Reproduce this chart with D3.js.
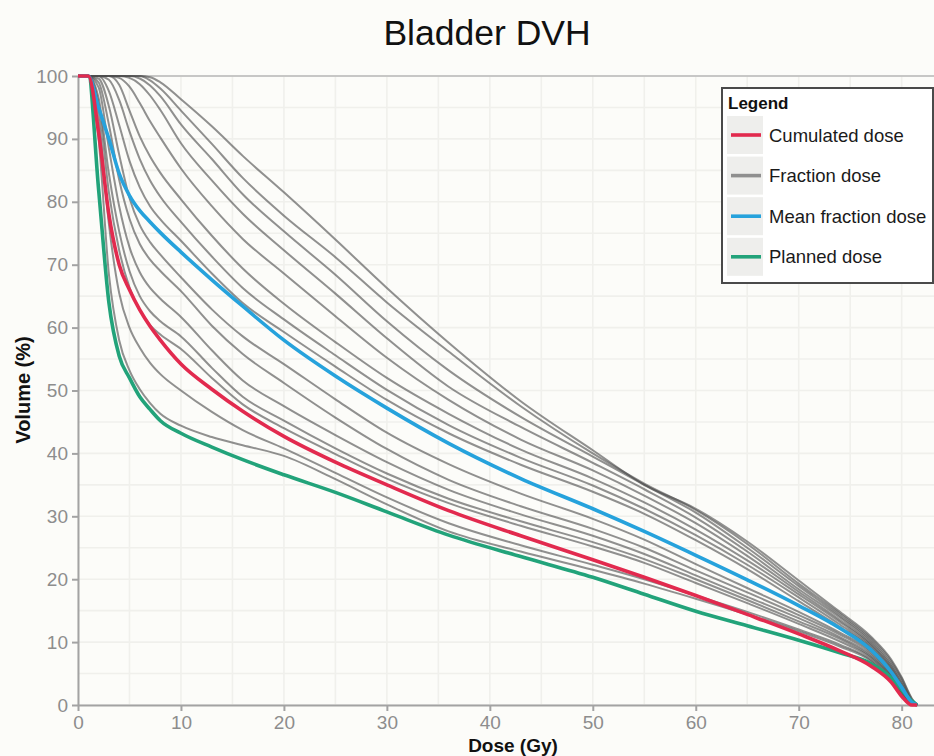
<!DOCTYPE html>
<html>
<head>
<meta charset="utf-8">
<script src="https://cdn.jsdelivr.net/npm/d3@7/dist/d3.min.js"></script>
<style>
  html, body { margin: 0; padding: 0; background: #fcfcf9; }
  svg { display: block; font-family: "Liberation Sans", Arial, Helvetica, sans-serif; }
</style>
</head>
<body>
<svg id="chart" width="934" height="756"></svg>
<script>
// Dose sampling points (Gy) shared by every curve
const doses = [0, 1, 2, 3, 4, 5, 6, 7, 8, 10, 13, 16, 20, 25, 30, 36, 43, 50, 55, 60, 65, 70, 74, 77, 79, 80, 81, 81.5];

// Individual fraction DVHs (volume %)
const fractionDose = [
  [100,100,100,100,100,100,100,99.8,99,96.3,92,87.3,81.5,74,66.3,57.6,48.3,40.5,35,31.2,26,19.8,14.8,10.9,7.2,4.4,1,0],
  [100,100,100,100,100,100,100,99.3,98,94.5,89.2,83.8,77.8,71.2,64,56.2,47.5,40,35.2,31,25.6,19.3,14.5,10.6,6.9,4.2,0.9,0],
  [100,100,100,100,100,100,99.6,98.5,96.8,92.3,86.8,81.2,75.3,68.4,61,53.2,45.8,39.5,35,30.6,25,18.9,14.2,10.3,6.5,3.8,0.7,0],
  [100,100,100,100,100,99.7,98.7,96.9,94.6,89.3,83.4,78.1,72.3,65.4,58.3,50.6,44.2,38.5,34.3,29.8,24.4,18.4,13.9,10,6.2,3.5,0.6,0],
  [100,100,100,100,99.7,98.3,95.7,92.8,90.2,85.3,79.3,74.1,68.6,61.8,55.2,48.5,42.2,37.3,33.3,28.9,23.7,18,13.5,9.7,5.9,3.2,0.5,0],
  [100,100,100,100,98.6,94.5,90.4,87.2,84.6,80.4,74.6,69.4,63.8,57.7,52,46.3,40.6,36,32.2,27.9,23,17.6,13.2,9.5,5.7,3,0.4,0],
  [100,100,100,99.4,96.2,91.2,86.8,83.4,80.8,76.8,71.3,66.3,61.3,55.6,50.1,44.5,39.3,34.9,31.2,27,22.3,17.1,12.8,9.2,5.4,2.8,0.3,0],
  [100,100,100,97.6,92.2,86.5,82.3,79.3,77.2,73.8,68.6,63.9,59.3,53.8,48.5,43.2,38.2,33.9,30.4,26.2,21.6,16.5,12.4,9,5.2,2.6,0.3,0],
  [100,100,99.6,95.2,87.5,80.6,76.3,73.6,71.6,68,62.9,58.6,54.2,48.6,43.3,38.3,33.6,29.6,26.3,22.4,18.6,14.8,11.5,8.6,5,2.4,0.2,0],
  [100,100,99,92.3,83.5,77.3,73.3,70.8,69,65.8,60.3,55.8,51.2,45.7,40.7,35.8,31.6,28,25,21.4,17.9,14.3,11.2,8.3,4.8,2.2,0.2,0],
  [100,100,98.2,88.5,79.3,72.8,68.8,66.3,64.6,61.7,56.4,51.6,47.5,42.9,38.6,34.2,30.3,26.9,24,20.6,17.2,13.8,10.8,8,4.6,2,0.1,0],
  [100,100,96.5,84.5,75.3,69,65,62.6,61,58.6,53.6,49,45.2,40.8,36.8,32.8,29.2,25.9,23.2,20,16.7,13.3,10.5,7.7,4.4,1.8,0,0],
  [100,100,95.5,81.5,72.3,66.4,62.8,60.4,58.9,56.6,52,47.8,44,39.9,36,32.1,28.5,25.2,22.6,19.4,16.2,12.9,10.1,7.5,4.2,1.7,0,0],
  [100,100,93.5,76.5,65.5,60,56.8,54.4,52.6,50,46.6,43.7,40.8,36.9,33,28.9,25.4,22.3,20,17.4,14.8,12,9.6,7.2,4,1.6,0,0],
  [100,100,90,68.5,58,53.2,50.2,48,46.3,44.4,42.6,41.3,39.6,35.9,31.9,27.6,24.4,21.5,19.3,16.9,14.4,11.7,9.3,7,3.8,1.5,0,0]
];

const meanFractionDose = [100,100,95,90,84.5,81,78.6,76.8,75.1,72,67.6,63.4,58,52.3,47.2,41.6,36,31.2,27.6,23.8,19.9,15.8,12.2,8.8,5.2,2.8,0.4,0];
const cumulatedDose    = [100,100,91,78,70,66,62.8,60.2,58,54.2,50.2,46.7,42.7,38.6,35,30.9,26.9,23.1,20.3,17.4,14.4,11.3,8.6,6.2,3.6,1.4,0,0];
const plannedDose      = [100,100,82,64,55.5,52,49,47,45.2,43.2,41,39,36.6,33.8,30.7,27,23.6,20.3,17.6,14.9,12.6,10.3,8.3,6.6,4.3,2.4,0.6,0];

const xTicks = [0, 10, 20, 30, 40, 50, 60, 70, 80];
const yTicks = [0, 10, 20, 30, 40, 50, 60, 70, 80, 90, 100];
const legendLabels = ["Cumulated dose", "Fraction dose", "Mean fraction dose", "Planned dose"];
const legendColors = ["#e22a4e", "#8f8f8f", "#26a2dc", "#22a37a"];

const svg = d3.select("#chart");
const W = 934, H = 756;
const plotLeft = 78, plotTop = 76, plotBottom = 705, plotRight = 948;

svg.append("rect").attr("width", W).attr("height", H).attr("fill", "#fcfcf9");

const x = d3.scaleLinear().domain([0, 84.5]).range([plotLeft, plotRight]);
const y = d3.scaleLinear().domain([0, 100]).range([plotBottom, plotTop]);

// faint background grid every 5 units
const grid = svg.append("g");
d3.range(0, 85, 5).forEach(d => {
  grid.append("line").attr("x1", x(d)).attr("x2", x(d)).attr("y1", plotTop).attr("y2", plotBottom)
    .attr("stroke", "#f0f0ec").attr("stroke-width", 1.6);
});
d3.range(0, 101, 5).forEach(v => {
  grid.append("line").attr("x1", plotLeft).attr("x2", plotRight).attr("y1", y(v)).attr("y2", y(v))
    .attr("stroke", "#f0f0ec").attr("stroke-width", 1.6);
});

// upper panel edge
svg.append("line").attr("x1", plotLeft).attr("x2", W).attr("y1", plotTop).attr("y2", plotTop)
  .attr("stroke", "#b9b9b9").attr("stroke-width", 1.6);

// axes
const xAxis = svg.append("g").attr("transform", `translate(0,${plotBottom})`)
  .call(d3.axisBottom(x).tickValues(xTicks).tickSize(6).tickSizeOuter(0).tickPadding(5));
const yAxis = svg.append("g").attr("transform", `translate(${plotLeft},0)`)
  .call(d3.axisLeft(y).tickValues(yTicks).tickSize(6).tickSizeOuter(0).tickPadding(4));
[xAxis, yAxis].forEach(a => {
  a.select(".domain").attr("stroke", "#a3a3a3").attr("stroke-width", 2);
  a.selectAll(".tick line").attr("stroke", "#a3a3a3").attr("stroke-width", 2);
  a.selectAll(".tick text").attr("fill", "#8d8d8d").attr("font-size", 19)
    .attr("font-family", "'Liberation Sans', Arial, sans-serif");
});

// curves
const line = d3.line()
  .x((v, i) => x(doses[i]))
  .y(v => y(v))
  .curve(d3.curveMonotoneX);

const curves = svg.append("g");
fractionDose.forEach(vals => {
  curves.append("path").attr("d", line(vals)).attr("fill", "none")
    .attr("stroke", "#4d4d4d").attr("stroke-opacity", 0.62).attr("stroke-width", 2);
});
curves.append("path").attr("d", line(plannedDose)).attr("fill", "none")
  .attr("stroke", legendColors[3]).attr("stroke-width", 3.6);
curves.append("path").attr("d", line(meanFractionDose)).attr("fill", "none")
  .attr("stroke", legendColors[2]).attr("stroke-width", 3.6);
curves.append("path").attr("d", line(cumulatedDose)).attr("fill", "none")
  .attr("stroke", legendColors[0]).attr("stroke-width", 3.6);

// title and axis titles
svg.append("text").attr("x", 487).attr("y", 45).attr("text-anchor", "middle")
  .attr("font-size", 35.5).attr("fill", "#111").text("Bladder DVH");
svg.append("text").attr("x", 513).attr("y", 752).attr("text-anchor", "middle")
  .attr("font-size", 19).attr("font-weight", "bold").attr("fill", "#111").text("Dose (Gy)");
svg.append("text").attr("transform", "translate(30,390) rotate(-90)").attr("text-anchor", "middle")
  .attr("font-size", 20).attr("font-weight", "bold").attr("fill", "#111").text("Volume (%)");

// legend
const lg = svg.append("g");
lg.append("rect").attr("x", 722).attr("y", 88).attr("width", 211).attr("height", 195)
  .attr("fill", "#ffffff").attr("stroke", "#4a4a4a").attr("stroke-width", 2);
lg.append("text").attr("x", 728).attr("y", 109).attr("font-size", 17).attr("font-weight", "bold")
  .attr("fill", "#111").text("Legend");
legendLabels.forEach((lab, i) => {
  const cy = 135 + i * 40.6;
  lg.append("rect").attr("x", 727).attr("y", cy - 19).attr("width", 36).attr("height", 38)
    .attr("fill", "#eeeeec");
  lg.append("line").attr("x1", 731).attr("x2", 761).attr("y1", cy).attr("y2", cy)
    .attr("stroke", legendColors[i]).attr("stroke-width", 3.6);
  lg.append("text").attr("x", 769).attr("y", cy + 6.5).attr("font-size", 18.5)
    .attr("fill", "#1a1a1a").text(lab);
});
</script>
</body>
</html>
